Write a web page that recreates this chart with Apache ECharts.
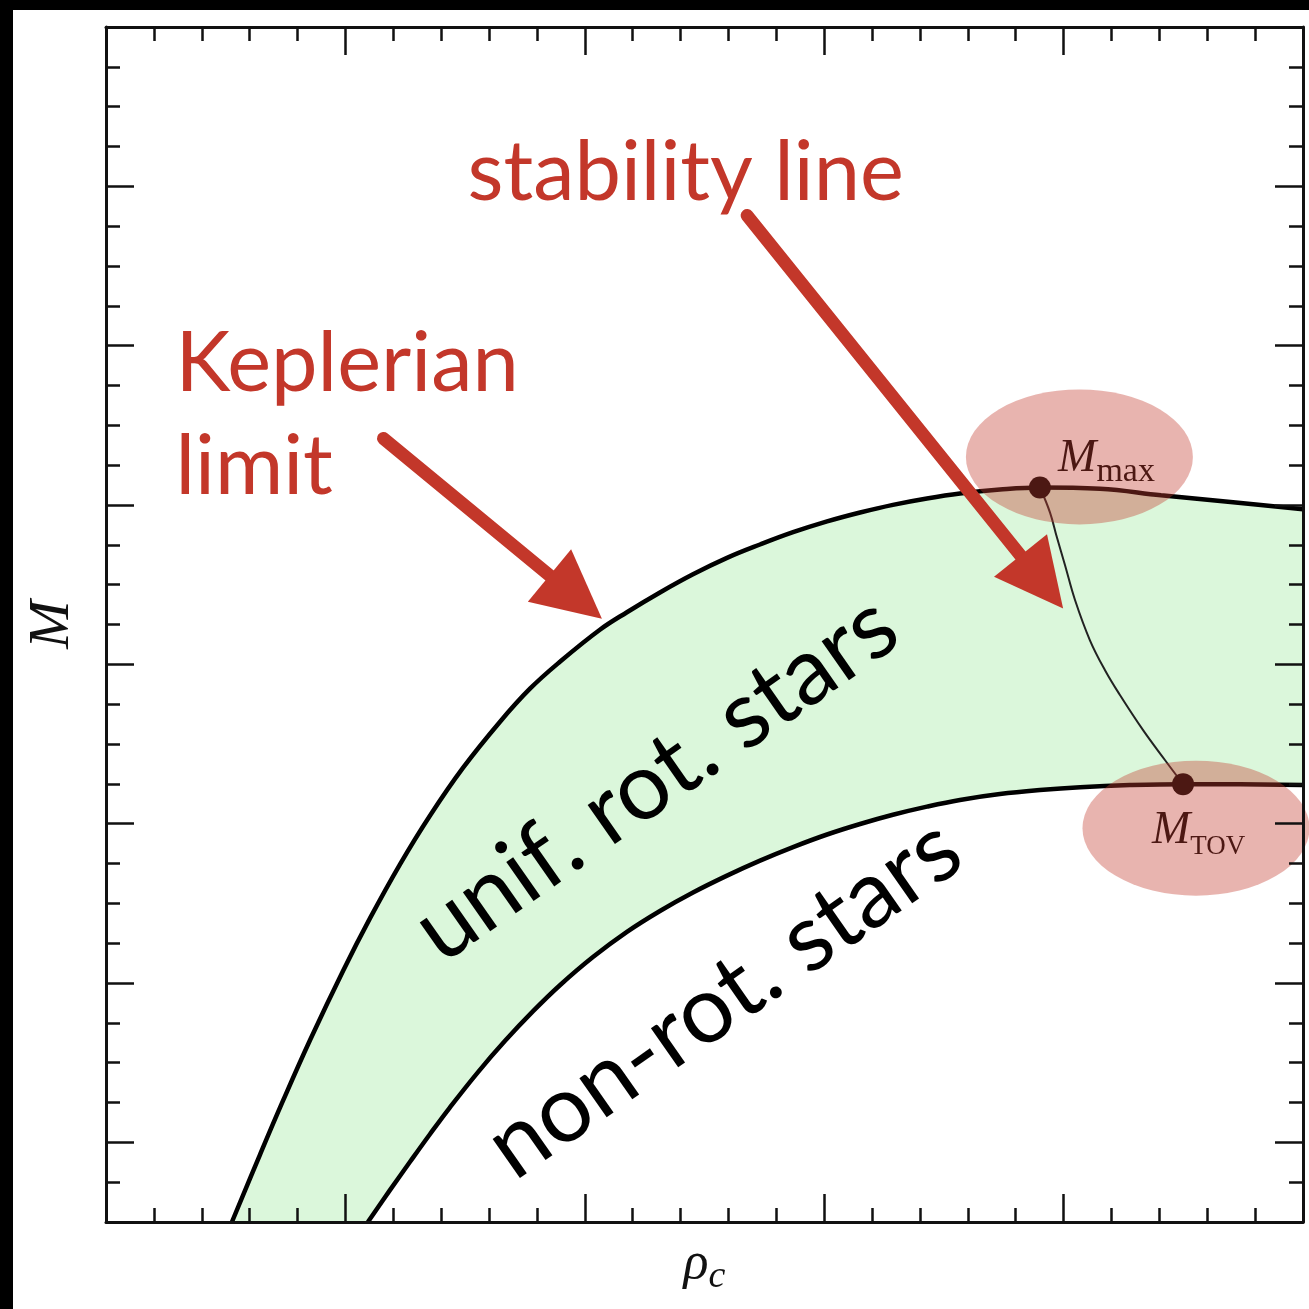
<!DOCTYPE html>
<html><head><meta charset="utf-8">
<script src="https://cdn.jsdelivr.net/npm/echarts@6/dist/echarts.min.js"></script>
<style>
html,body{margin:0;padding:0;background:#000;width:1309px;height:1309px;overflow:hidden}
#c{position:absolute;left:13px;top:10px;width:1296px;height:1299px;background:#fff}
</style></head><body><div id="c"></div>
<script>
// Keplerian limit (mass-shedding) sequence: rho_c vs M
const keplerRho = [0.526,0.643,0.739,0.852,0.990,1.103,1.228,1.353,1.491,1.646,1.771,1.896,2.063,2.176,2.314,2.452,2.594,2.732,2.870,3.012,3.150,3.287,3.429,3.567,3.734,3.901,4.152,4.407,4.708,5.0];
const keplerM   = [0,0.422,0.760,1.141,1.576,1.907,2.245,2.550,2.850,3.140,3.347,3.516,3.717,3.827,3.951,4.065,4.168,4.252,4.329,4.397,4.453,4.501,4.541,4.572,4.597,4.610,4.602,4.561,4.517,4.473];
// non-rotating (TOV) sequence
const staticRho = [1.094,1.186,1.270,1.353,1.437,1.554,1.667,1.784,1.896,2.034,2.176,2.314,2.452,2.594,2.732,2.870,3.012,3.150,3.287,3.429,3.567,3.734,3.901,4.069,4.277,4.499,4.737,5.0];
const staticM   = [0,0.200,0.378,0.551,0.720,0.941,1.137,1.323,1.486,1.663,1.821,1.952,2.068,2.174,2.268,2.353,2.432,2.498,2.556,2.607,2.649,2.686,2.711,2.729,2.742,2.748,2.747,2.742];
// stability line from M_max to M_TOV
const stabRho = [3.901,3.943,3.972,4.006,4.048,4.11,4.173,4.236,4.332,4.424,4.499];
const stabM   = [4.610,4.454,4.297,4.122,3.902,3.651,3.463,3.306,3.087,2.898,2.748];
// special points
const pointNames = ['Mmax','Mtov'];
const pointRho = [3.901, 4.499];
const pointM   = [4.610, 2.748];
// highlight ellipses (centres)
const ellipseRho = [4.066, 4.553];
const ellipseM   = [4.802, 2.472];
// point labels
const pointLabelRho = [3.977, 4.369];
const pointLabelM   = [4.787, 2.457];
// region labels
const regionText = ['unif. rot. stars','non-rot. stars'];
const regionRho  = [2.297, 2.581];
const regionM    = [2.785, 1.405];
// annotations (red)
const noteText = ['stability line','Keplerian','limit'];
const noteRho  = [1.51, 0.29, 0.29];
const noteM    = [6.585, 5.385, 4.738];
// arrows [start -> end]
const arrowStartRho = [1.159, 2.678];
const arrowStartM   = [4.918, 6.317];
const arrowEndRho   = [1.962, 3.909];
const arrowEndM     = [3.922, 4.017];

const zip = (a,b) => a.map((v,i)=>[v,b[i]]);
const RED = '#c3372a';
const AX = '#111';

function xAx(pos, interval, len, showLine, extra){
  return Object.assign({
    type:'value', min:0, max:5, interval:interval, position:pos, z:10,
    axisLine:{show:showLine, onZero:false, lineStyle:{color:AX,width:3}},
    axisTick:{show:true, inside:true, length:len, lineStyle:{color:AX,width:2.5}},
    axisLabel:{show:false}, splitLine:{show:false}
  }, extra||{});
}
function yAx(pos, interval, len, showLine, inverse, extra){
  return Object.assign({
    type:'value', min:0, max:7.5, interval:interval, position:pos, inverse:inverse, z:10,
    axisLine:{show:showLine, onZero:false, lineStyle:{color:AX,width:3}},
    axisTick:{show:true, inside:true, length:len, lineStyle:{color:AX,width:2.5}},
    axisLabel:{show:false}, splitLine:{show:false}
  }, extra||{});
}

const chart = echarts.init(document.getElementById('c'), null, {renderer:'canvas'});
chart.setOption({
  animation:false,
  backgroundColor:'#fff',
  grid:{left:93, top:17, width:1197, height:1195, containLabel:false},
  xAxis:[
    xAx('bottom',0.2,14,true,{
      name:'{r|ρ}{c|c}', nameLocation:'middle', nameGap:10,
      nameTextStyle:{rich:{
        r:{fontFamily:'Liberation Serif',fontStyle:'italic',fontSize:52,color:'#111',lineHeight:64,verticalAlign:'middle'},
        c:{fontFamily:'Liberation Serif',fontStyle:'italic',fontSize:38,color:'#111',lineHeight:64,verticalAlign:'bottom'}
      }}
    }),
    xAx('bottom',1,28,false),
    xAx('top',0.2,14,true),
    xAx('top',1,28,false)
  ],
  yAxis:[
    yAx('left',0.25,14,true,false,{
      name:'M', nameLocation:'middle', nameGap:24, nameRotate:90,
      nameTextStyle:{fontFamily:'Liberation Serif',fontStyle:'italic',fontSize:58,color:'#111'}
    }),
    yAx('left',1,28,false,true),
    yAx('right',0.25,14,true,false),
    yAx('right',1,28,false,true)
  ],
  series:[
    {type:'line', name:'Keplerian', data:zip(keplerRho,keplerM), smooth:0.4,
     showSymbol:false, z:2, silent:true,
     lineStyle:{color:'#000',width:4.5},
     areaStyle:{color:'#dbf7db',opacity:1,origin:'start'}},
    {type:'line', name:'non-rot', data:zip(staticRho,staticM), smooth:0.4,
     showSymbol:false, z:3, silent:true,
     lineStyle:{color:'#000',width:4.5},
     areaStyle:{color:'#ffffff',opacity:1,origin:'start'}},
    {type:'line', name:'stability', data:zip(stabRho,stabM), smooth:0.4,
     showSymbol:false, z:4, silent:true,
     lineStyle:{color:'#222',width:2}},
    {type:'scatter', data:zip(pointRho,pointM), symbol:'circle', symbolSize:22, z:5, silent:true,
     itemStyle:{color:'#000',opacity:1}},
    {type:'scatter', data:zip(pointLabelRho,pointLabelM).map((p,i)=>({value:p,name:pointNames[i]})),
     symbolSize:0, z:5, silent:true, itemStyle:{opacity:1},
     label:{show:true, position:[0,0], align:'left', verticalAlign:'middle',
       formatter:(p)=> p.name==='Mmax' ? '{m|M}{s|max}' : '{m|M}{t|TOV}',
       rich:{
         m:{fontFamily:'Liberation Serif',fontStyle:'italic',fontSize:46,color:'#000',lineHeight:60,verticalAlign:'middle'},
         s:{fontFamily:'Liberation Serif',fontSize:34,color:'#000',lineHeight:60,verticalAlign:'bottom'},
         t:{fontFamily:'Liberation Serif',fontSize:27,color:'#000',lineHeight:60,verticalAlign:'bottom'}
       }}},
    {type:'scatter', data:zip(ellipseRho,ellipseM), symbol:'circle', symbolSize:[227,135],
     z:6, silent:true, clip:false,
     itemStyle:{color:'rgba(196,63,48,0.39)',opacity:1}},
    {type:'scatter', data:zip(regionRho,regionM).map((p,i)=>({value:p,name:regionText[i]})),
     symbolSize:0, z:7, silent:true, itemStyle:{opacity:1},
     label:{show:true, position:[0,0], align:'center', verticalAlign:'middle', rotate:35,
       formatter:'{b}', fontFamily:'Lato', fontSize:94, color:'#000'}},
    {type:'lines', coordinateSystem:'cartesian2d', z:8, silent:true,
     data:arrowStartRho.map((v,i)=>({coords:[[v,arrowStartM[i]],[arrowEndRho[i],arrowEndM[i]]]})),
     symbol:['none','triangle'], symbolSize:68,
     lineStyle:{color:RED,width:13,opacity:1,cap:'round'}},
    {type:'scatter', data:zip(noteRho,noteM).map((p,i)=>({value:p,name:noteText[i]})),
     symbolSize:0, z:8, silent:true, itemStyle:{opacity:1},
     label:{show:true, position:[0,0], align:'left', verticalAlign:'middle',
       formatter:'{b}', fontFamily:'Lato', fontSize:83, color:RED}}
  ]
});
</script></body></html>
